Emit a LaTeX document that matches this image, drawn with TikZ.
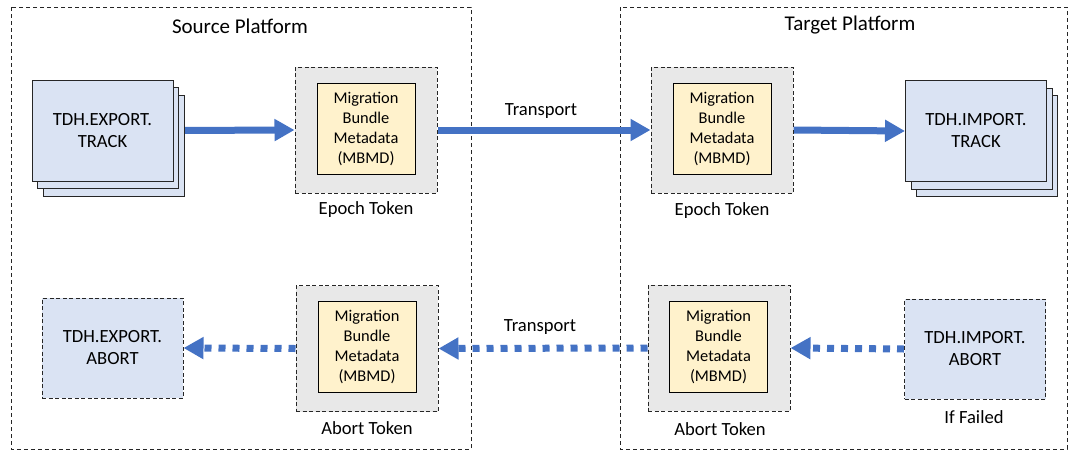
\documentclass[tikz,border=0pt]{standalone}
\usepackage{fontspec}
\setmainfont{Carlito}
\usetikzlibrary{arrows.meta,shadows}
\definecolor{trackfill}{HTML}{DAE3F3}
\definecolor{tokenfill}{HTML}{E8E8E8}
\definecolor{mbmdfill}{HTML}{FFF2CC}
\definecolor{flowblue}{HTML}{4472C4}
\definecolor{edge}{HTML}{262626}
\pgfdeclarelayer{frames}
\pgfdeclarelayer{flows}
\pgfsetlayers{frames,flows,main}
\tikzset{
  platform/.style={draw=edge, line width=0.9pt, dash pattern=on 4pt off 3pt},
  title/.style={font=\fontsize{21}{25}\selectfont, inner sep=0pt},
  caption/.style={font=\fontsize{18.6}{22}\selectfont, inner sep=0pt},
  trackbox/.style={draw=edge, line width=1pt, fill=trackfill, inner sep=0pt,
    minimum width=141pt, minimum height=101pt, align=center,
    font=\fontsize{18.6}{22}\selectfont,
    double copy shadow={shadow xshift=5.5pt, shadow yshift=-7.5pt}},
  abortbox/.style={draw=edge, line width=1pt, dash pattern=on 4pt off 2.5pt,
    fill=trackfill, inner sep=0pt, minimum width=141pt, minimum height=100pt,
    align=center, font=\fontsize{18.6}{22}\selectfont},
  tokenbox/.style={draw=edge, line width=1pt, dash pattern=on 4pt off 2.5pt,
    fill=tokenfill, inner sep=0pt, minimum width=142pt, minimum height=126pt},
  mbmdbox/.style={draw=black, line width=1pt, fill=mbmdfill, inner sep=0pt,
    minimum width=98pt, minimum height=91pt, align=center,
    font=\fontsize{16.4}{20}\selectfont},
  flow/.style={draw=flowblue, line width=7pt,
    -{Triangle[length=20pt,width=21pt]}},
  dottedflow/.style={flow, dash pattern=on 7pt off 7pt},
}
\begin{document}
\begin{tikzpicture}[x=1pt,y=-1pt]
\useasboundingbox (0,0) rectangle (1072,453);

% platform frames
\begin{pgfonlayer}{frames}
  \draw[platform] (11,7) rectangle (471,449);
  \draw[platform] (620,7) rectangle (1067,449);
\end{pgfonlayer}
\node[title] (srctitle) at (240,26) {Source Platform};
\node[title] (tgttitle) at (850,25) {Target Platform};

% export / import tracks
\node[trackbox] (exptrack) at (102.5,130.5) {TDH.EXPORT.\\TRACK};
\node[trackbox] (imptrack) at (976,131) {TDH.IMPORT.\\TRACK};

% epoch tokens
\node[tokenbox] (srcepoch) at (366,130) {};
\node[mbmdbox] (srcmbmd) at (366,128.5) {Migration\\Bundle\\Metadata\\(MBMD)};
\node[caption] (srcepochlbl) at (366,210) {Epoch Token};

\node[tokenbox] (tgtepoch) at (722,130) {};
\node[mbmdbox] (tgtmbmd) at (722,128.5) {Migration\\Bundle\\Metadata\\(MBMD)};
\node[caption] (tgtepochlbl) at (722,211) {Epoch Token};

% abort tokens
\node[tokenbox] (srcabort) at (367,348.5) {};
\node[mbmdbox] (srcabmbmd) at (367,347) {Migration\\Bundle\\Metadata\\(MBMD)};
\node[caption] (srcabortlbl) at (367,428) {Abort Token};

\node[tokenbox] (tgtabort) at (719,348) {};
\node[mbmdbox] (tgtabmbmd) at (718.5,347) {Migration\\Bundle\\Metadata\\(MBMD)};
\node[caption] (tgtabortlbl) at (720,429) {Abort Token};

% abort endpoints
\node[abortbox] (expabort) at (112.5,348) {TDH.EXPORT.\\ABORT};
\node[abortbox] (impabort) at (975,349) {TDH.IMPORT.\\ABORT};
\node[caption] (failedlbl) at (974,417) {If Failed};

% transport labels
\node[caption] (toptransport) at (541,111) {Transport};
\node[caption] (bottransport) at (540,327) {Transport};

% flows
\begin{pgfonlayer}{flows}
  \draw[flow] (exptrack.east) -- (srcepoch.west);
  \draw[flow] (srcepoch.east) -- (tgtepoch.west);
  \draw[flow] (tgtepoch.east) -- (imptrack.west);
  \draw[dottedflow] (impabort.west) -- (tgtabort.east);
  \draw[dottedflow] (tgtabort.west) -- (srcabort.east);
  \draw[dottedflow] (srcabort.west) -- (expabort.east);
\end{pgfonlayer}
\end{tikzpicture}
\end{document}
